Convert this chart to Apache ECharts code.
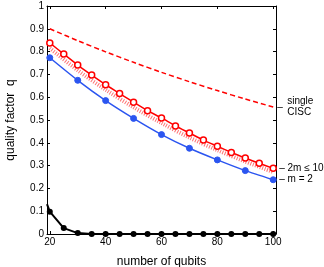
<!DOCTYPE html>
<html><head><meta charset="utf-8">
<script src="https://cdn.jsdelivr.net/npm/echarts@6/dist/echarts.min.js"></script>
<style>html,body{margin:0;padding:0;background:#fff}#c{width:324px;height:267px}</style>
</head><body><div id="c"></div>
<script>
// x values
const xTicks = [20, 40, 60, 80, 100];
const yTicks = [0, 0.1, 0.2, 0.3, 0.4, 0.5, 0.6, 0.7, 0.8, 0.9, 1];
// single CISC (dashed)
const ciscX = [20, 30, 40, 50, 60, 70, 80, 90, 100];
const ciscY = [0.900, 0.848, 0.799, 0.753, 0.709, 0.668, 0.629, 0.592, 0.557];
// 2m <= 10 (red, open circles)
const redX = [20, 25, 30, 35, 40, 45, 50, 55, 60, 65, 70, 75, 80, 85, 90, 95, 100];
const redY = [0.838, 0.789, 0.741, 0.697, 0.655, 0.616, 0.578, 0.541, 0.509, 0.474, 0.443, 0.412, 0.385, 0.358, 0.333, 0.310, 0.288];
// red dotted band
const dotX = [20, 30, 40, 50, 60, 70, 80, 90, 100];
const dotY = [0.815, 0.718, 0.633, 0.556, 0.487, 0.423, 0.368, 0.318, 0.272];
// m = 2 (blue, filled)
const blueX = [20, 30, 40, 50, 60, 70, 80, 90, 100];
const blueY = [0.773, 0.674, 0.585, 0.507, 0.436, 0.376, 0.325, 0.278, 0.238];
// black curve
const blackX = [19, 20, 25, 30, 35, 40, 45, 50, 55, 60, 65, 70, 75, 80, 85, 90, 95, 100];
const blackY = [0.131, 0.098, 0.026, 0.004, 0, 0, 0, 0, 0, 0, 0, 0, 0, 0, 0, 0, 0, 0];

const FONT = 'Liberation Sans';
const zip = (xs, ys) => xs.map((x, i) => [x, ys[i]]);
const RED = '#ff0000', BLUE = '#2b55f0';

const baseAxis = {
  axisLine: {show: true, onZero: false, lineStyle: {color: '#000', width: 1}},
  splitLine: {show: false},
};
const chart = echarts.init(document.getElementById('c'), null, {renderer: 'canvas'});
chart.setOption({
  animation: false,
  textStyle: {fontFamily: FONT},
  grid: {left: 47, right: 48, top: 6, bottom: 33, containLabel: false, outerBoundsMode: 'none'},
  xAxis: [
    Object.assign({}, baseAxis, {
      type: 'value', min: 19, max: 101, position: 'bottom',
      name: 'number of qubits', nameLocation: 'middle', nameGap: 22,
      nameTextStyle: {fontSize: 12, color: '#000', fontFamily: FONT},
      axisTick: {show: true, inside: true, length: 3, customValues: xTicks, lineStyle: {color: '#000'}},
      axisLabel: {show: true, customValues: xTicks, fontSize: 10, color: '#000', margin: 3, fontFamily: FONT}
    }),
    Object.assign({}, baseAxis, {
      type: 'value', min: 19, max: 101, position: 'top',
      axisTick: {show: true, inside: true, length: 3, customValues: xTicks, lineStyle: {color: '#000'}},
      axisLabel: {show: false}
    })
  ],
  yAxis: [
    Object.assign({}, baseAxis, {
      type: 'value', min: 0, max: 1, interval: 0.1, position: 'left',
      name: 'quality factor  q', nameLocation: 'middle', nameGap: 30, nameRotate: 90,
      nameTextStyle: {fontSize: 12, color: '#000', fontFamily: FONT},
      axisTick: {show: true, inside: true, length: 3, lineStyle: {color: '#000'}},
      axisLabel: {show: true, fontSize: 10, color: '#000', margin: 3, fontFamily: FONT,
        customValues: yTicks}
    }),
    Object.assign({}, baseAxis, {
      type: 'value', min: 0, max: 1, interval: 0.1, position: 'right',
      axisTick: {show: true, inside: true, length: 3, lineStyle: {color: '#000'}},
      axisLabel: {show: false}
    })
  ],
  series: [
    {
      type: 'line', data: zip(ciscX, ciscY), smooth: 0.3, showSymbol: false, symbol: 'none',
      lineStyle: {color: RED, width: 1.5, type: [5, 3]},
      endLabel: {show: true, formatter: '–', color: '#000', fontSize: 10, distance: 4, fontFamily: FONT},
      markPoint: {symbol: 'circle', symbolSize: 0,
        data: [{coord: [ciscX[ciscX.length - 1], ciscY[ciscY.length - 1]]}],
        label: {show: true, position: 'right', distance: 14, formatter: 'single\nCISC',
          color: '#000', fontSize: 10, lineHeight: 11, fontFamily: FONT, align: 'left'}},
      z: 3
    },
    {
      type: 'line', data: zip(dotX, dotY), smooth: 0.3, showSymbol: false, symbol: 'none',
      lineStyle: {color: RED, width: 4, type: [1, 1.5], opacity: 0.55}, z: 2
    },
    {
      type: 'line', data: zip(blueX, blueY), smooth: 0.2, symbol: 'circle', symbolSize: 6, showSymbol: true,
      itemStyle: {color: BLUE, borderColor: BLUE}, lineStyle: {color: BLUE, width: 1.5},
      endLabel: {show: true, formatter: '– m = 2', color: '#000', fontSize: 10, distance: 6, fontFamily: FONT},
      z: 4
    },
    {
      type: 'line', data: zip(redX, redY), smooth: 0.2, symbol: 'circle', symbolSize: 6, showSymbol: true,
      itemStyle: {color: '#fff', borderColor: RED, borderWidth: 1.5}, lineStyle: {color: RED, width: 1.5},
      endLabel: {show: true, formatter: '– 2m ≤ 10', color: '#000', fontSize: 10, distance: 6, fontFamily: FONT},
      z: 5
    },
    {
      type: 'line', data: zip(blackX, blackY).map((p, i) => i === 0 ? {value: p, symbol: 'none'} : p),
      symbol: 'circle', symbolSize: 6, showSymbol: true,
      itemStyle: {color: '#000'}, lineStyle: {color: '#000', width: 2}, z: 6
    }
  ]
});
</script></body></html>
